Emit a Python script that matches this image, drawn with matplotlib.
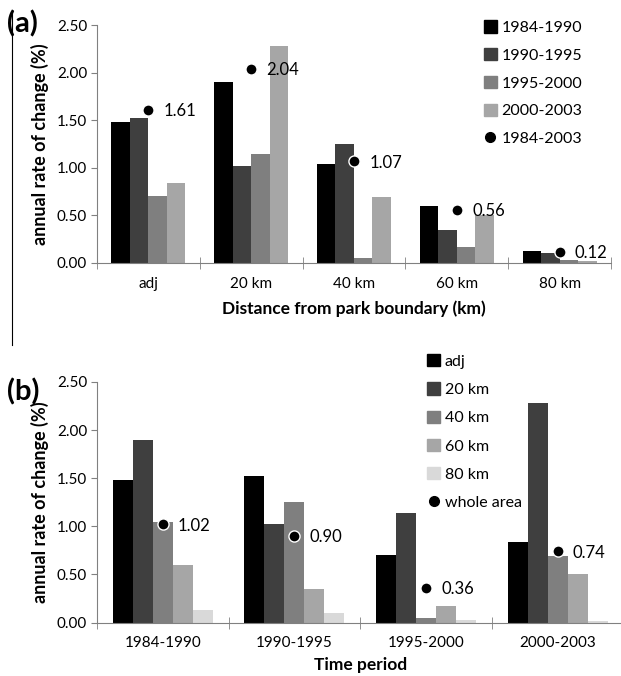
import numpy as np
import matplotlib
matplotlib.use('Agg')
import matplotlib.pyplot as plt
from matplotlib.patches import Patch
from matplotlib.lines import Line2D

plt.rcParams['font.family'] = ['Lato', 'DejaVu Sans']
plt.rcParams['font.size'] = 11

# data
distances = ['adj', '20 km', '40 km', '60 km', '80 km']
periods = ['1984-1990', '1990-1995', '1995-2000', '2000-2003']
rate_adj = [1.48, 1.52, 0.70, 0.84]
rate_20 = [1.90, 1.02, 1.14, 2.28]
rate_40 = [1.04, 1.25, 0.05, 0.69]
rate_60 = [0.60, 0.35, 0.17, 0.50]
rate_80 = [0.13, 0.10, 0.03, 0.02]
whole_by_distance = [1.61, 2.04, 1.07, 0.56, 0.12]   # 1984-2003
whole_by_period = [1.02, 0.90, 0.36, 0.74]           # whole area

by_dist = np.array([rate_adj, rate_20, rate_40, rate_60, rate_80])  # rows: distance, cols: period

colors = ['#000000', '#3f3f3f', '#7f7f7f', '#a6a6a6', '#d9d9d9']

fig = plt.figure(figsize=(6.21, 6.76), dpi=100)


def style_axis(ax, n):
    ax.spines['top'].set_visible(False)
    ax.spines['right'].set_visible(False)
    ax.spines['left'].set_color('#808080')
    ax.spines['bottom'].set_color('#808080')
    ax.set_xlim(-0.5, n - 0.5)
    ax.set_ylim(0, 2.5)
    ax.set_yticks(np.arange(0, 2.51, 0.5))
    ax.set_yticklabels(['%.2f' % v for v in np.arange(0, 2.51, 0.5)])
    ax.set_xticks(np.arange(n))
    ax.set_xticks(np.arange(n + 1) - 0.5, minor=True)
    ax.tick_params(axis='x', which='major', length=0, pad=10)
    ax.tick_params(axis='x', which='minor', direction='inout', length=8, color='#808080')
    ax.tick_params(axis='y', length=4, color='#808080', pad=3)
    ax.set_ylabel('annual rate of change (%)', fontweight='bold', fontsize=13, labelpad=6)


# ---- (a) by distance
ax1 = fig.add_axes([0.156, 0.611, 0.828, 0.352])
w = 0.18
x = np.arange(len(distances))
for j in range(len(periods)):
    ax1.bar(x + (j - 1.5) * w, by_dist[:, j], w, color=colors[j], label=periods[j])
ax1.plot(x, whole_by_distance, 'o', color='black', markersize=8,
         markeredgecolor='white', markeredgewidth=1, label='1984-2003', zorder=5)
for xi, v in zip(x, whole_by_distance):
    ax1.annotate('%.2f' % v, (xi, v), xytext=(11, -1), textcoords='offset points',
                 va='center', ha='left', fontsize=12)
style_axis(ax1, len(distances))
ax1.set_xticklabels(distances)
ax1.set_xlabel('Distance from park boundary (km)', fontweight='bold', fontsize=12.5, labelpad=7)
h1 = [Patch(color=colors[j]) for j in range(4)] + \
     [Line2D([], [], marker='o', color='black', linestyle='none', markersize=7)]
ax1.legend(h1, periods + ['1984-2003'], loc='upper left', bbox_to_anchor=(0.725, 1.08),
           frameon=False, handlelength=0.8, handleheight=0.8, handletextpad=0.3,
           labelspacing=0.82, fontsize=11.5)
fig.text(0.012, 0.965, '(a)', fontsize=21, fontweight='bold', va='center')

# ---- (b) by period
ax2 = fig.add_axes([0.156, 0.079, 0.848, 0.356])
w2 = 0.152
x2 = np.arange(len(periods))
for i in range(len(distances)):
    ax2.bar(x2 + (i - 2) * w2, by_dist[i, :], w2, color=colors[i], label=distances[i])
ax2.plot(x2, whole_by_period, 'o', color='black', markersize=8,
         markeredgecolor='white', markeredgewidth=1, zorder=5)
for xi, v in zip(x2, whole_by_period):
    ax2.annotate('%.2f' % v, (xi, v), xytext=(11, -1), textcoords='offset points',
                 va='center', ha='left', fontsize=12)
style_axis(ax2, len(periods))
ax2.set_xticklabels(periods)
ax2.set_xlabel('Time period', fontweight='bold', fontsize=12.5, labelpad=5)
h2 = [Patch(color=colors[i]) for i in range(5)] + \
     [Line2D([], [], marker='o', color='black', linestyle='none', markersize=7)]
ax2.legend(h2, distances + ['whole area'], loc='upper left', bbox_to_anchor=(0.60, 1.175),
           frameon=False, handlelength=0.8, handleheight=0.8, handletextpad=0.3,
           labelspacing=0.85, fontsize=11.5)
fig.text(0.012, 0.42, '(b)', fontsize=21, fontweight='bold', va='center')

# thin rule on the left edge of panel (a)
fig.add_artist(Line2D([0.019, 0.019], [0.49, 0.982], color='black', linewidth=0.8))

fig.savefig('out.png', dpi=100)
